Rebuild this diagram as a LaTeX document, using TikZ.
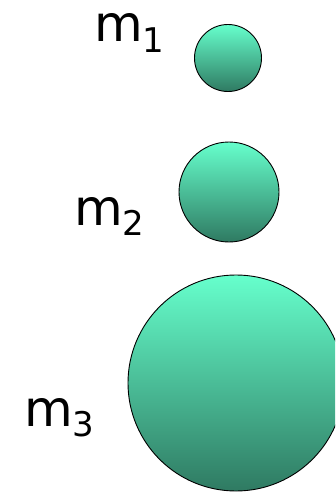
\documentclass[tikz,border=0pt]{standalone}
\usepackage{fontspec}
\setmainfont{DejaVu Sans}
\usetikzlibrary{positioning}
\definecolor{ballhi}{HTML}{66FFCC}
\definecolor{balllo}{HTML}{2F7A62}
\newcommand{\massname}[1]{m\raisebox{-0.21em}{\fontsize{34}{34}\selectfont #1}}
\tikzset{
  ball/.style={circle,draw=black,line width=0.9pt,inner sep=0pt,
               top color=ballhi,bottom color=balllo},
  masslabel/.style={anchor=base west,inner sep=0pt,
                    font=\fontsize{50}{60}\selectfont}
}
\begin{document}
\begin{tikzpicture}[x=1pt,y=-1pt]
  \useasboundingbox (0,0) rectangle (335,492);
  \clip (0,0) rectangle (335,492);

  % the three masses, growing downwards
  \node[ball,minimum size=67pt]  (b1) at (228,58)  {};
  \node[ball,minimum size=100pt] (b2) at (229,192) {};
  \node[ball,minimum size=216pt] (b3) at (236,383) {};

  \node[masslabel] (m1) at (94,42)  {\massname{1}};
  \node[masslabel] (m2) at (74,225) {\massname{2}};
  \node[masslabel] (m3) at (24,426) {\massname{3}};
\end{tikzpicture}
\end{document}
